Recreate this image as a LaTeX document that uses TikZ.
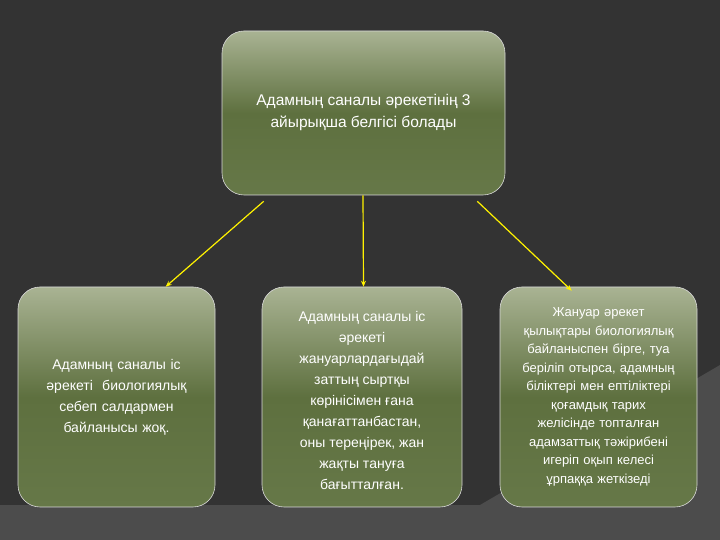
\documentclass[tikz,border=0pt]{standalone}
\usepackage{fontspec}
\setmainfont{Liberation Sans}
\usetikzlibrary{arrows.meta,calc}
\begin{document}
\begin{tikzpicture}[x=1pt,y=1pt,
  box/.style={draw=white!70!gray,line width=0.6pt,rounded corners=22pt,
    top color=boxtop,bottom color=boxbot,middle color=boxmid,
    text=white,align=center,inner sep=0pt,font=\fontsize{14}{21}\selectfont},
  txt/.style={text=white,align=center,inner sep=0pt,font=\fontsize{14}{21}\selectfont},
  conn/.style={draw=yellow,line width=1.2pt,-{Stealth[length=6pt,width=5pt]}}]
\definecolor{boxtop}{HTML}{A9B393}
\definecolor{boxmid}{HTML}{5E703F}
\definecolor{boxbot}{HTML}{667848}
\useasboundingbox (0,0) rectangle (720,540);
\fill[black!80] (0,0) rectangle (720,540);
\fill[black!70] (0,0) rectangle (720,35);
\fill[black!70] (420,0) -- (720,175) -- (720,0) -- cycle;
\node[box,minimum width=283pt,minimum height=164pt,font=\fontsize{15.5}{22}\selectfont] (top) at (363.5,427) {Адамның саналы әрекетінің 3\\айырықша белгісі болады};
\node[box,minimum width=197pt,minimum height=220pt,text width=180pt] (l) at (116.5,143) {Адамның саналы іс\\әрекеті \ биологиялық\\себеп салдармен\\байланысы жоқ.};
\node[box,minimum width=200pt,minimum height=220pt] (m) at (362,143) {};
\node[txt,anchor=north] (mt) at ([yshift=-24pt]m.north) {Адамның саналы іс\\әрекеті\\жануарлардағыдай\\заттың сыртқы\\көрінісімен ғана\\қанағаттанбастан,\\оны тереңірек, жан\\жақты тануға\\бағытталған.};
\node[box,minimum width=197pt,minimum height=220pt,text width=185pt,font=\fontsize{13}{18.5}\selectfont] (r) at (598.5,143) {Жануар әрекет\\қылықтары биологиялық\\байланыспен бірге, туа\\беріліп отырса, адамның\\біліктері мен ептіліктері\\қоғамдық тарих\\желісінде топталған\\адамзаттық тәжірибені\\игеріп оқып келесі\\ұрпаққа жеткізеді};
\draw[conn] ($(top.south west)+(42,-6)$) -- ($(l.north west)+(148,0)$);
\draw[conn] ([xshift=-0.5pt]top.south) -- (top.south |- m.north);
\draw[conn] ($(top.south east)+(-28,-6)$) -- ($(r.north west)+(72,-4)$);
\end{tikzpicture}
\end{document}
